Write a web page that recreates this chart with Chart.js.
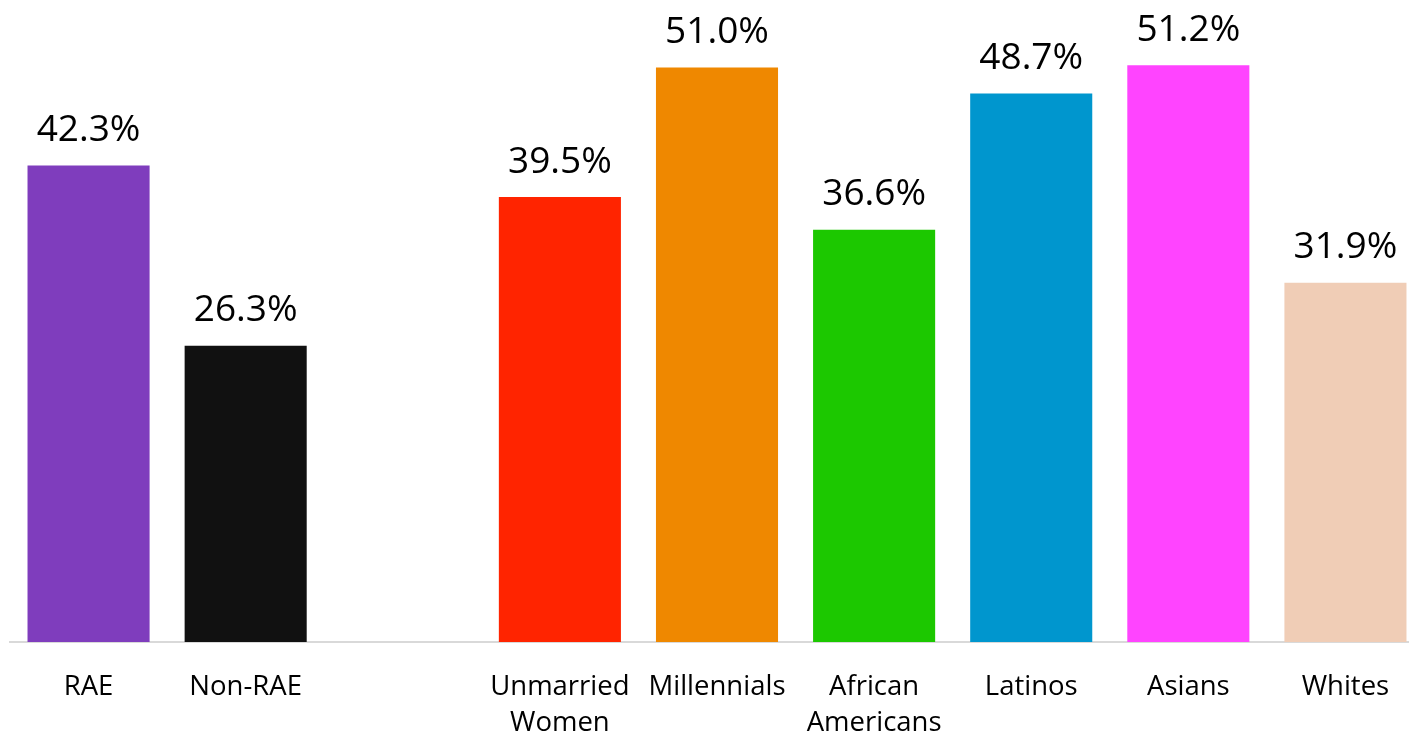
<!DOCTYPE html>
<html>
<head>
<meta charset="utf-8">
<title>Share by group</title>
<script src="https://cdn.jsdelivr.net/npm/chart.js@4.4.1/dist/chart.umd.min.js"></script>
<style>
    html, body { margin: 0; padding: 0; background: #fff; overflow: hidden; }
    #wrap { width: 1424px; height: 735px; }
</style>
</head>
<body>
<div id="wrap">
    <canvas id="groupChart" width="1424" height="735"></canvas>
</div>
<script>
// Values. The empty slot is the gap between the two groups.
const categories = ['RAE', 'Non-RAE', '', ['Unmarried', 'Women'], 'Millennials', ['African', 'Americans'], 'Latinos', 'Asians', 'Whites'];
const shares = [42.3, 26.3, null, 39.5, 51.0, 36.6, 48.7, 51.2, 31.9];
const barColors = ['#7F3DBD', '#111111', '#ffffff', '#FF2400', '#EF8800', '#1CC800', '#0096CE', '#FF44FF', '#F0CDB6'];

const fontFamily = '"Open Sans", "Noto Sans", sans-serif';

// Draws the percentage above every bar.
const valueLabels = {
    id: 'valueLabels',
    afterDatasetsDraw(chart) {
        const ctx = chart.ctx;
        const meta = chart.getDatasetMeta(0);
        ctx.save();
        ctx.font = '37px ' + fontFamily;
        ctx.fillStyle = '#000';
        ctx.textAlign = 'center';
        ctx.textBaseline = 'middle';
        meta.data.forEach((bar, i) => {
            const v = shares[i];
            if (v === null) return;
            ctx.fillText(v.toFixed(1) + '%', bar.x, bar.y - 35);
        });
        ctx.restore();
    }
};

new Chart(document.getElementById('groupChart').getContext('2d'), {
    type: 'bar',
    data: {
        labels: categories,
        datasets: [{
            data: shares,
            backgroundColor: barColors,
            borderWidth: 0,
            categoryPercentage: 1,
            barPercentage: 0.777
        }]
    },
    options: {
        responsive: false,
        animation: false,
        layout: { padding: { left: 10, right: 0, top: 0, bottom: 0 } },
        plugins: {
            legend: { display: false },
            tooltip: { enabled: false }
        },
        scales: {
            x: {
                grid: { display: false, drawTicks: false },
                border: { display: true, color: '#d9d9d9', width: 2 },
                ticks: {
                    color: '#000',
                    padding: 27,
                    maxRotation: 0,
                    autoSkip: false,
                    font: { family: fontFamily, size: 27.5, lineHeight: 36 / 27.5 }
                },
                afterFit(scale) { scale.height = 93; }
            },
            y: {
                display: false,
                min: 0,
                max: 57
            }
        }
    },
    plugins: [valueLabels]
});
</script>
</body>
</html>
